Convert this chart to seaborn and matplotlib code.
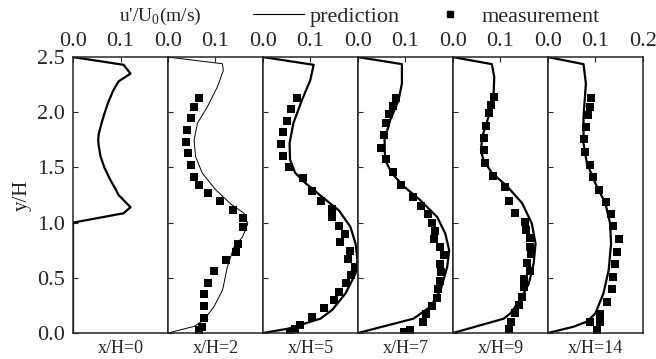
import numpy as np
import pandas as pd
import matplotlib
matplotlib.use("Agg")
import matplotlib.pyplot as plt
from matplotlib.lines import Line2D
import seaborn as sns

# ---------------- data ----------------
stations = ["x/H=0", "x/H=2", "x/H=5", "x/H=7", "x/H=9", "x/H=14"]

# predicted profiles (u'/U0 vs y/H)
pred0_u = [0.0, 0.1065, 0.121, 0.096, 0.085, 0.075, 0.067, 0.060, 0.054, 0.053, 0.054, 0.058,
           0.066, 0.077, 0.090, 0.096, 0.121, 0.1065, 0.0, 0.0]
pred0_y = [2.5, 2.43, 2.35, 2.28, 2.2, 2.1, 2.0, 1.9, 1.8, 1.75, 1.7, 1.6,
           1.5, 1.4, 1.3, 1.25, 1.14, 1.085, 1.0, 0.0]

pred2_u = [0.0, 0.1145, 0.1166, 0.104, 0.083, 0.062, 0.055, 0.058, 0.072, 0.100, 0.132, 0.160,
           0.168, 0.157, 0.139, 0.125, 0.115, 0.097, 0.076, 0.055, 0.0]
pred2_y = [2.5, 2.44, 2.38, 2.23, 2.05, 1.90, 1.75, 1.60, 1.45, 1.30, 1.17, 1.085,
           0.99, 0.87, 0.78, 0.60, 0.39, 0.24, 0.12, 0.06, 0.0]

pred5_u = [0.0, 0.1067, 0.0996, 0.082, 0.064, 0.056, 0.057, 0.068, 0.089, 0.124, 0.160, 0.184,
           0.195, 0.199, 0.195, 0.174, 0.146, 0.121, 0.054, 0.0]
pred5_y = [2.5, 2.43, 2.29, 2.11, 1.90, 1.72, 1.57, 1.45, 1.36, 1.235, 1.11, 0.963,
           0.81, 0.66, 0.54, 0.36, 0.21, 0.13, 0.04, 0.0]

pred7_u = [0.0, 0.0926, 0.0926, 0.0855, 0.068, 0.056, 0.057, 0.071, 0.096, 0.131, 0.167, 0.184,
           0.192, 0.188, 0.174, 0.153, 0.117, 0.0]
pred7_y = [2.5, 2.436, 2.26, 2.11, 1.93, 1.75, 1.57, 1.45, 1.33, 1.205, 1.05, 0.90,
           0.75, 0.60, 0.39, 0.24, 0.13, 0.0]

pred9_u = [0.0, 0.082, 0.087, 0.0855, 0.075, 0.062, 0.059, 0.064, 0.082, 0.114, 0.146, 0.166,
           0.174, 0.170, 0.160, 0.142, 0.121, 0.107, 0.0]
pred9_y = [2.5, 2.436, 2.32, 2.14, 1.96, 1.78, 1.66, 1.57, 1.45, 1.33, 1.175, 0.993,
           0.81, 0.63, 0.45, 0.30, 0.178, 0.13, 0.0]

pred14_u = [0.0, 0.075, 0.080, 0.075, 0.075, 0.082, 0.100, 0.121, 0.131, 0.133, 0.128, 0.117,
            0.100, 0.082, 0.054, 0.0]
pred14_y = [2.5, 2.436, 2.26, 1.96, 1.72, 1.54, 1.356, 1.175, 0.993, 0.81, 0.57, 0.36,
            0.178, 0.103, 0.057, 0.0]

# measurements
meas2_u = [0.065, 0.055, 0.048, 0.041, 0.037, 0.042, 0.049, 0.055, 0.065, 0.084, 0.109, 0.137,
           0.158, 0.158, 0.147, 0.144, 0.123, 0.097, 0.084, 0.075, 0.075, 0.076, 0.072, 0.065]
meas2_y = [2.125, 2.05, 1.945, 1.84, 1.73, 1.63, 1.52, 1.415, 1.34, 1.265, 1.195, 1.115,
           1.04, 0.963, 0.81, 0.736, 0.66, 0.565, 0.456, 0.35, 0.245, 0.14, 0.05, 0.03]

meas5_u = [0.0714, 0.0587, 0.0516, 0.0431, 0.0382, 0.0431, 0.0551, 0.0834, 0.103, 0.123, 0.146,
           0.146, 0.160, 0.172, 0.163, 0.183, 0.179, 0.193, 0.186, 0.174, 0.160, 0.149, 0.129,
           0.103, 0.077, 0.068, 0.057]
meas5_y = [2.13, 2.026, 1.92, 1.824, 1.712, 1.606, 1.50, 1.40, 1.29, 1.20, 1.12,
           1.048, 0.972, 0.897, 0.827, 0.746, 0.67, 0.60, 0.525, 0.45, 0.374, 0.30, 0.223,
           0.148, 0.072, 0.033, 0.012]

meas7_u = [0.0806, 0.0735, 0.0664, 0.0587, 0.0551, 0.048, 0.0594, 0.0735, 0.0905, 0.115, 0.133,
           0.147, 0.155, 0.163, 0.161, 0.172, 0.182, 0.172, 0.174, 0.172, 0.168, 0.167, 0.155,
           0.144, 0.137, 0.110, 0.098]
meas7_y = [2.13, 2.056, 1.98, 1.905, 1.793, 1.679, 1.573, 1.455, 1.34, 1.229, 1.153,
           1.078, 0.999, 0.927, 0.851, 0.776, 0.707, 0.625, 0.55, 0.474, 0.40, 0.32, 0.248,
           0.172, 0.097, 0.027, 0.012]

meas9_u = [0.0855, 0.080, 0.075, 0.069, 0.0657, 0.0657, 0.0678, 0.0834, 0.109, 0.119, 0.131,
           0.151, 0.154, 0.163, 0.163, 0.165, 0.155, 0.162, 0.149, 0.150, 0.146, 0.140, 0.131,
           0.123, 0.119]
meas9_y = [2.14, 2.065, 1.99, 1.875, 1.763, 1.658, 1.537, 1.425, 1.32, 1.199, 1.084,
           1.008, 0.933, 0.857, 0.782, 0.716, 0.637, 0.565, 0.486, 0.414, 0.33, 0.254, 0.178,
           0.103, 0.033]

meas14_u = [0.0905, 0.0877, 0.0834, 0.0806, 0.075, 0.0777, 0.0877, 0.096, 0.108, 0.122, 0.133,
            0.138, 0.149, 0.146, 0.142, 0.137, 0.134, 0.124, 0.110, 0.110, 0.0876, 0.103]
meas14_y = [2.13, 2.05, 1.975, 1.863, 1.754, 1.643, 1.522, 1.416, 1.30, 1.19, 1.078,
            0.969, 0.848, 0.737, 0.625, 0.51, 0.396, 0.284, 0.172, 0.097, 0.103, 0.027]

pred_u = [pred0_u, pred2_u, pred5_u, pred7_u, pred9_u, pred14_u]
pred_y = [pred0_y, pred2_y, pred5_y, pred7_y, pred9_y, pred14_y]
meas_u = [None, meas2_u, meas5_u, meas7_u, meas9_u, meas14_u]
meas_y = [None, meas2_y, meas5_y, meas7_y, meas9_y, meas14_y]
line_widths = [1.6, 0.7, 1.6, 1.6, 1.6, 1.6]

# ---------------- plotting ----------------
sns.set_style("ticks")
plt.rcParams["font.family"] = ["Liberation Serif", "DejaVu Serif"]
plt.rcParams["axes.linewidth"] = 1.1

fig, axes = plt.subplots(1, 6, sharey=True, figsize=(6.56, 3.59), dpi=100)
fig.subplots_adjust(left=0.1113, right=0.980, bottom=0.0724, top=0.841, wspace=0)

for i, ax in enumerate(axes):
    df_p = pd.DataFrame({"u": pred_u[i], "y": pred_y[i]})
    sns.lineplot(data=df_p, x="u", y="y", sort=False, estimator=None, orient="y",
                 color="black", lw=line_widths[i], ax=ax)
    if meas_u[i] is not None:
        df_m = pd.DataFrame({"u": meas_u[i], "y": meas_y[i]})
        sns.scatterplot(data=df_m, x="u", y="y", marker="s", s=30, color="black",
                        linewidth=0, ax=ax)
    ax.set_xlim(0, 0.2)
    ax.set_ylim(0, 2.5)
    ax.xaxis.tick_top()
    ticks = [0.0, 0.1, 0.2] if i == 5 else [0.0, 0.1]
    ax.set_xticks(ticks)
    ax.set_xticklabels([f"{t:.1f}" for t in ticks])
    ax.tick_params(axis="x", direction="in", length=3.5, width=0.8, pad=4.5, labelsize=16)
    ax.tick_params(axis="y", direction="in", length=3.5, width=0.8, pad=6, labelsize=16)
    ax.set_yticks([0.0, 0.5, 1.0, 1.5, 2.0, 2.5])
    ax.set_xlabel(stations[i], fontsize=13, labelpad=5)
    ax.xaxis.set_label_position("bottom")
    if i == 0:
        ax.set_yticklabels(["0.0", "0.5", "1.0", "1.5", "2.0", "2.5"])
        ax.set_ylabel("y/H", fontsize=15, labelpad=4)
    else:
        ax.set_ylabel("")

line_handle = Line2D([], [], color="black", lw=0.8)
meas_handle = Line2D([], [], color="black", marker="s", ms=5, lw=0)

fig.text(0.244, 0.955, r"u'/U$_{\mathregular{0}}$(m/s)", ha="center", va="center", fontsize=14)
fig.legend([line_handle, meas_handle], ["prediction", "measurement"],
           loc="center left", bbox_to_anchor=(0.386, 0.953), ncol=2, frameon=False,
           fontsize=16, handlelength=2.3, handletextpad=0.25, columnspacing=1.1,
           borderpad=0, borderaxespad=0)

fig.savefig("out.png", dpi=100)
